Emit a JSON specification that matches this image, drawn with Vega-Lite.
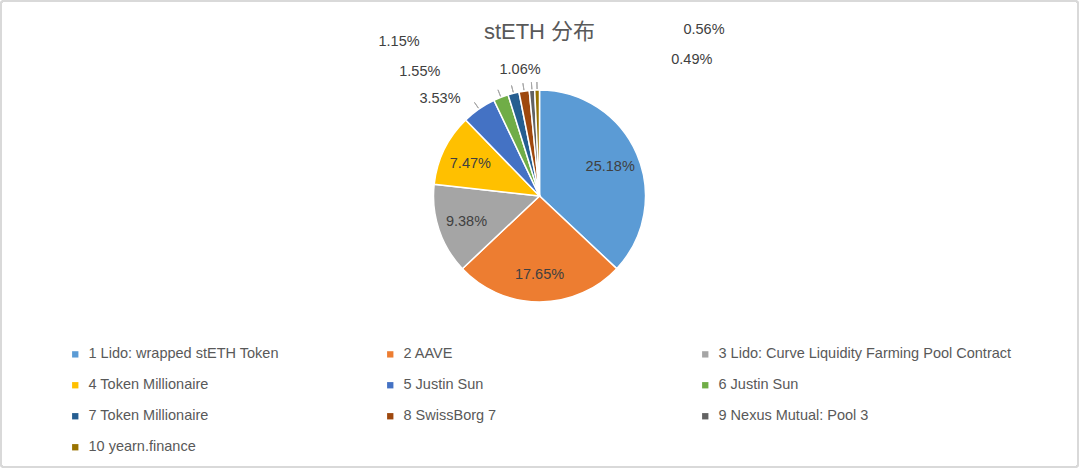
{
  "$schema": "https://vega.github.io/schema/vega-lite/v6.json",
  "description": "stETH holder distribution pie",
  "width": 1077,
  "height": 466,
  "padding": 1,
  "autosize": {"type": "none"},
  "background": "white",
  "title": {
    "text": "stETH 分布",
    "fontSize": 22,
    "fontWeight": "normal",
    "color": "#595959",
    "font": "Liberation Sans, Noto Sans CJK SC",
    "anchor": "middle",
    "offset": -44
  },
  "config": {
    "view": {"stroke": null},
    "text": {"font": "Liberation Sans", "fontSize": 14.5, "fill": "#404040"}
  },
  "data": {
    "values": [
      {"rank": 1, "name": "1 Lido: wrapped stETH Token", "share": 25.18},
      {"rank": 2, "name": "2 AAVE", "share": 17.65},
      {"rank": 3, "name": "3 Lido: Curve Liquidity Farming Pool Contract", "share": 9.38},
      {"rank": 4, "name": "4 Token Millionaire", "share": 7.47},
      {"rank": 5, "name": "5 Justin Sun", "share": 3.53},
      {"rank": 6, "name": "6 Justin Sun", "share": 1.55},
      {"rank": 7, "name": "7 Token Millionaire", "share": 1.15},
      {"rank": 8, "name": "8 SwissBorg 7", "share": 1.06},
      {"rank": 9, "name": "9 Nexus Mutual: Pool 3", "share": 0.56},
      {"rank": 10, "name": "10 yearn.finance", "share": 0.49}
    ]
  },
  "transform": [
    {"window": [{"op": "sum", "field": "share", "as": "cum"}], "sort": [{"field": "rank"}]},
    {"calculate": "datum.cum - datum.share / 2", "as": "mid"},
    {"calculate": "format(datum.share, '.2f') + '%'", "as": "label"}
  ],
  "layer": [
    {
      "mark": {"type": "rect", "fill": null, "stroke": "#d9d9d9", "strokeWidth": 1.5, "cornerRadius": 3},
      "encoding": {}
    },
    {
      "mark": {"type": "arc", "outerRadius": 106, "stroke": "white", "strokeWidth": 1.5, "yOffset": -38},
      "encoding": {
        "theta": {"field": "share", "type": "quantitative", "stack": true},
        "order": {"field": "rank", "type": "quantitative"},
        "color": {
          "field": "name",
          "type": "nominal",
          "scale": {
            "domain": ["1 Lido: wrapped stETH Token", "2 AAVE", "3 Lido: Curve Liquidity Farming Pool Contract", "4 Token Millionaire", "5 Justin Sun", "6 Justin Sun", "7 Token Millionaire", "8 SwissBorg 7", "9 Nexus Mutual: Pool 3", "10 yearn.finance"],
            "range": ["#5B9BD5", "#ED7D31", "#A5A5A5", "#FFC000", "#4472C4", "#70AD47", "#255E91", "#9E480E", "#636363", "#997300"]
          },
          "legend": {
            "title": null,
            "orient": "none",
            "direction": "horizontal",
            "legendX": 67,
            "legendY": 346,
            "columns": 3,
            "gridAlign": "all",
            "columnPadding": 1,
            "rowPadding": 16,
            "symbolType": "square",
            "symbolSize": 40,
            "symbolStrokeWidth": 0,
            "labelFont": "Liberation Sans",
            "labelFontSize": 14.5,
            "labelColor": "#595959",
            "labelLimit": 400,
            "labelOffset": 6
          }
        }
      }
    },
    {
      "transform": [{"filter": "datum.rank >= 5"}],
      "mark": {"type": "arc", "fill": null, "stroke": "#a6a6a6", "strokeWidth": 1, "yOffset": -38},
      "encoding": {
        "theta": {"field": "mid", "type": "quantitative", "stack": null},
        "theta2": {"field": "mid"},
        "radius": {"value": 114},
        "radius2": {"value": 107}
      }
    },
    {
      "transform": [{"filter": "datum.share > 5"}],
      "mark": {"type": "text", "radius": 77, "yOffset": -36},
      "encoding": {
        "theta": {"field": "mid", "type": "quantitative", "stack": null},
        "text": {"field": "label"}
      }
    },
    {
      "transform": [{"filter": "datum.rank == 5"}],
      "mark": {"type": "text", "radius": 120, "yOffset": -38, "dx": -31, "dy": 2},
      "encoding": {"theta": {"field": "mid", "type": "quantitative", "stack": null}, "text": {"field": "label"}}
    },
    {
      "transform": [{"filter": "datum.rank == 6"}],
      "mark": {"type": "text", "radius": 120, "yOffset": -38, "dx": -76, "dy": -12},
      "encoding": {"theta": {"field": "mid", "type": "quantitative", "stack": null}, "text": {"field": "label"}}
    },
    {
      "transform": [{"filter": "datum.rank == 7"}],
      "mark": {"type": "text", "radius": 120, "yOffset": -38, "dx": -111, "dy": -38},
      "encoding": {"theta": {"field": "mid", "type": "quantitative", "stack": null}, "text": {"field": "label"}}
    },
    {
      "transform": [{"filter": "datum.rank == 8"}],
      "mark": {"type": "text", "radius": 120, "yOffset": -38, "dx": -2, "dy": -7},
      "encoding": {"theta": {"field": "mid", "type": "quantitative", "stack": null}, "text": {"field": "label"}}
    },
    {
      "transform": [{"filter": "datum.rank == 9"}],
      "mark": {"type": "text", "radius": 120, "yOffset": -38, "dx": 173, "dy": -46},
      "encoding": {"theta": {"field": "mid", "type": "quantitative", "stack": null}, "text": {"field": "label"}}
    },
    {
      "transform": [{"filter": "datum.rank == 10"}],
      "mark": {"type": "text", "radius": 120, "yOffset": -38, "dx": 155, "dy": -16},
      "encoding": {"theta": {"field": "mid", "type": "quantitative", "stack": null}, "text": {"field": "label"}}
    }
  ]
}
